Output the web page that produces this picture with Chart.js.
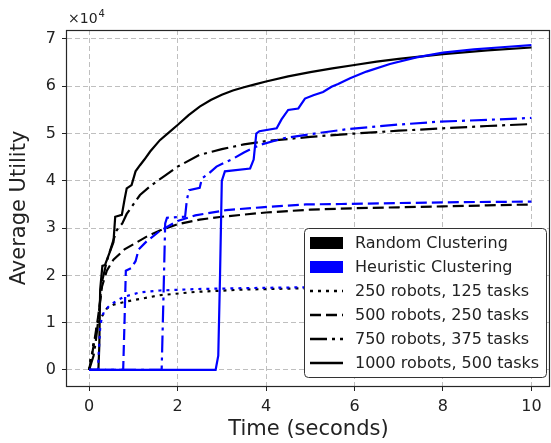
<!DOCTYPE html>
<html>
<head>
<meta charset="utf-8">
<script src="https://cdn.jsdelivr.net/npm/chart.js@4.4.1/dist/chart.umd.min.js"></script>
<style>
  body { margin: 0; background: #fff; }
</style>
</head>
<body>
<canvas id="my-chart" width="551" height="443"></canvas>
<script>
// utility values are in units of 1e4 (axis shows x10^4)
const rand250T = [0, 0.04, 0.07, 0.1, 0.13, 0.17, 0.2, 0.3, 0.4, 0.55, 0.85, 1.15, 1.6, 2.4, 3.5, 5, 7, 10];
const rand250U = [0, 0.3, 0.35, 0.6, 0.65, 0.9, 1.0, 1.15, 1.3, 1.38, 1.45, 1.5, 1.58, 1.65, 1.7, 1.73, 1.76, 1.79];
const heur250T = [0, 0.2, 0.22, 0.25, 0.29, 0.35, 0.47, 0.65, 0.8, 1.15, 1.6, 2.4, 3.5, 5, 7, 10];
const heur250U = [0, 0, 0.4, 0.9, 1.13, 1.25, 1.37, 1.48, 1.55, 1.64, 1.68, 1.71, 1.73, 1.75, 1.78, 1.8];

const rand500T = [0, 0.06, 0.1, 0.15, 0.2, 0.25, 0.29, 0.4, 0.55, 0.8, 1.08, 1.3, 1.6, 2.0, 2.5, 3.0, 4.0, 5.0, 6.0, 7.0, 8.0, 9.0, 10];
const rand500U = [0, 0.3, 0.5, 0.8, 1.1, 1.45, 1.76, 2.1, 2.33, 2.55, 2.7, 2.82, 2.95, 3.08, 3.18, 3.24, 3.33, 3.39, 3.42, 3.44, 3.46, 3.48, 3.5];
const heur500T = [0, 0.77, 0.8, 0.83, 0.95, 1.05, 1.12, 1.3, 1.6, 2.0, 2.4, 3.1, 3.9, 4.9, 5.7, 7, 8.5, 10];
const heur500U = [0, 0, 1.0, 2.1, 2.15, 2.3, 2.55, 2.72, 2.94, 3.15, 3.27, 3.38, 3.44, 3.5, 3.51, 3.53, 3.55, 3.56];

const rand750T = [0, 0.1, 0.15, 0.2, 0.25, 0.3, 0.4, 0.5, 0.62, 0.75, 0.85, 1.0, 1.15, 1.4, 1.7, 2.0, 2.5, 3.0, 3.5, 4.0, 5.0, 6.0, 7.0, 8.0, 9.0, 10];
const rand750U = [0, 0.3, 0.6, 1.0, 1.5, 1.9, 2.3, 2.6, 2.95, 3.1, 3.3, 3.5, 3.7, 3.9, 4.1, 4.3, 4.55, 4.67, 4.77, 4.84, 4.93, 5.0, 5.06, 5.11, 5.16, 5.2];
const heur750T = [0, 1.64, 1.68, 1.72, 1.76, 2.17, 2.21, 2.26, 2.5, 2.55, 2.7, 2.88, 3.05, 3.26, 3.5, 3.86, 4.4, 5.1, 5.9, 7, 7.9, 9, 10];
const heur750U = [0, 0, 1.5, 3.1, 3.22, 3.24, 3.6, 3.8, 3.85, 4.05, 4.15, 4.3, 4.38, 4.47, 4.6, 4.76, 4.9, 5.0, 5.1, 5.19, 5.25, 5.29, 5.33];

const rand1000T = [0, 0.21, 0.23, 0.25, 0.3, 0.36, 0.45, 0.55, 0.59, 0.74, 0.8, 0.85, 0.96, 1.05, 1.15, 1.25, 1.38, 1.6, 1.8, 2.0, 2.25, 2.5, 2.75, 3.0, 3.25, 3.5, 3.75, 4.0, 4.5, 5.0, 5.5, 6.0, 6.5, 7.0, 8.0, 9.0, 10];
const rand1000U = [0, 0, 0.5, 1.7, 2.2, 2.22, 2.45, 2.7, 3.24, 3.28, 3.6, 3.84, 3.91, 4.2, 4.33, 4.45, 4.62, 4.86, 5.02, 5.18, 5.39, 5.57, 5.71, 5.82, 5.91, 5.98, 6.04, 6.1, 6.21, 6.3, 6.38, 6.45, 6.52, 6.58, 6.68, 6.76, 6.82];
const heur1000T = [0, 2.86, 2.92, 2.96, 3.0, 3.07, 3.64, 3.72, 3.78, 3.85, 4.24, 4.35, 4.5, 4.73, 4.88, 5.07, 5.29, 5.48, 5.63, 5.9, 6.27, 6.8, 7.4, 8.0, 8.7, 9.4, 10];
const heur1000U = [0, 0, 0.3, 2.0, 4.0, 4.2, 4.26, 4.45, 5.0, 5.05, 5.11, 5.3, 5.5, 5.53, 5.74, 5.81, 5.88, 5.99, 6.05, 6.17, 6.31, 6.47, 6.61, 6.71, 6.78, 6.83, 6.87];

const xTicks = [0, 2, 4, 6, 8, 10];
const yTicks = [0, 1, 2, 3, 4, 5, 6, 7];
const methodLabels = ['Random Clustering', 'Heuristic Clustering'];
const sizeLabels = ['250 robots, 125 tasks', '500 robots, 250 tasks', '750 robots, 375 tasks', '1000 robots, 500 tasks'];

const BLUE = '#0000ff';
const BLACK = '#000000';
const styles = [[3, 5], [11, 5], [17, 5, 3, 5], []]; // dotted, dashed, dashdot, solid
const LW = 2.2;
const FONT = "'DejaVu Sans', sans-serif";

function pts(t, u) {
  return t.map((x, i) => ({ x: x, y: u[i] }));
}

function line(t, u, color, dash) {
  return {
    data: pts(t, u),
    borderColor: color,
    borderWidth: LW,
    borderDash: dash,
    borderCapStyle: 'butt',
    pointRadius: 0,
    tension: 0,
    fill: false
  };
}

// first dataset is drawn on top, so blue goes first
const datasets = [
  line(heur1000T, heur1000U, BLUE, styles[3]),
  line(heur750T, heur750U, BLUE, styles[2]),
  line(heur500T, heur500U, BLUE, styles[1]),
  line(heur250T, heur250U, BLUE, styles[0]),
  line(rand1000T, rand1000U, BLACK, styles[3]),
  line(rand750T, rand750U, BLACK, styles[2]),
  line(rand500T, rand500U, BLACK, styles[1]),
  line(rand250T, rand250U, BLACK, styles[0])
];

const extras = {
  id: 'extras',
  afterDraw(chart) {
    const ctx = chart.ctx;
    const a = chart.chartArea;
    ctx.save();
    // frame
    ctx.strokeStyle = '#262626';
    ctx.lineWidth = 1.2;
    ctx.strokeRect(Math.round(a.left) - 0.5, Math.round(a.top) + 0.5, Math.round(a.right - a.left), Math.round(a.bottom - a.top));

    // offset text
    ctx.fillStyle = '#222';
    ctx.textBaseline = 'alphabetic';
    ctx.textAlign = 'left';
    ctx.font = '14px ' + FONT;
    ctx.fillText('\u00d710', 68, 23);
    const w = ctx.measureText('\u00d710').width;
    ctx.font = '10px ' + FONT;
    ctx.fillText('4', 68 + w + 1, 17);

    // legend
    const lx = 304, ly = 228, lw = 242, lh = 149;
    ctx.beginPath();
    ctx.roundRect(lx + 0.5, ly + 0.5, lw, lh, 4);
    ctx.fillStyle = '#fff';
    ctx.fill();
    ctx.strokeStyle = '#333';
    ctx.lineWidth = 1;
    ctx.stroke();

    const rows = methodLabels.concat(sizeLabels);
    ctx.font = '16px ' + FONT;
    ctx.textBaseline = 'middle';
    rows.forEach((label, i) => {
      const cy = ly + 15 + i * 24;
      if (i < 2) {
        ctx.fillStyle = i === 0 ? BLACK : BLUE;
        ctx.fillRect(310, cy - 6, 33, 12);
      } else {
        ctx.beginPath();
        ctx.setLineDash(styles[i - 2]);
        ctx.lineCap = 'butt';
        ctx.lineWidth = 2.5;
        ctx.strokeStyle = BLACK;
        ctx.moveTo(310, cy);
        ctx.lineTo(343, cy);
        ctx.stroke();
        ctx.setLineDash([]);
      }
      ctx.fillStyle = '#222';
      ctx.fillText(label, 355, cy + 1);
    });
    ctx.restore();
  }
};

const ctx = document.getElementById('my-chart').getContext('2d');
new Chart(ctx, {
  type: 'line',
  data: { datasets: datasets },
  plugins: [extras],
  options: {
    responsive: false,
    animation: false,
    layout: { padding: { top: 30, right: 1, left: 0, bottom: 0 } },
    plugins: { legend: { display: false }, tooltip: { enabled: false } },
    scales: {
      x: {
        type: 'linear',
        min: -0.5,
        max: 10.42,
        afterBuildTicks: s => { s.ticks = xTicks.map(v => ({ value: v })); },
        afterFit: s => { s.height = 57; },
        ticks: { font: { family: FONT, size: 16 }, color: '#222', padding: 6, maxRotation: 0 },
        grid: { color: 'rgba(170,170,170,0.75)', lineWidth: 1, tickColor: '#222', tickLength: 5, tickWidth: 1 },
        border: { display: false, dash: [5, 3] },
        title: { display: true, text: 'Time (seconds)', font: { family: FONT, size: 21 }, color: '#222', padding: { top: 0, bottom: 1 } }
      },
      y: {
        type: 'linear',
        min: -0.34,
        max: 7.19,
        afterBuildTicks: s => { s.ticks = yTicks.map(v => ({ value: v })); },
        afterFit: s => { s.width = 67; },
        ticks: { font: { family: FONT, size: 16 }, color: '#222', padding: 6 },
        grid: { color: 'rgba(170,170,170,0.75)', lineWidth: 1, tickColor: '#222', tickLength: 5, tickWidth: 1 },
        border: { display: false, dash: [5, 3] },
        title: { display: true, text: 'Average Utility', font: { family: FONT, size: 21 }, color: '#222', padding: { top: 7, bottom: 0 } }
      }
    }
  }
});
</script>
</body>
</html>
